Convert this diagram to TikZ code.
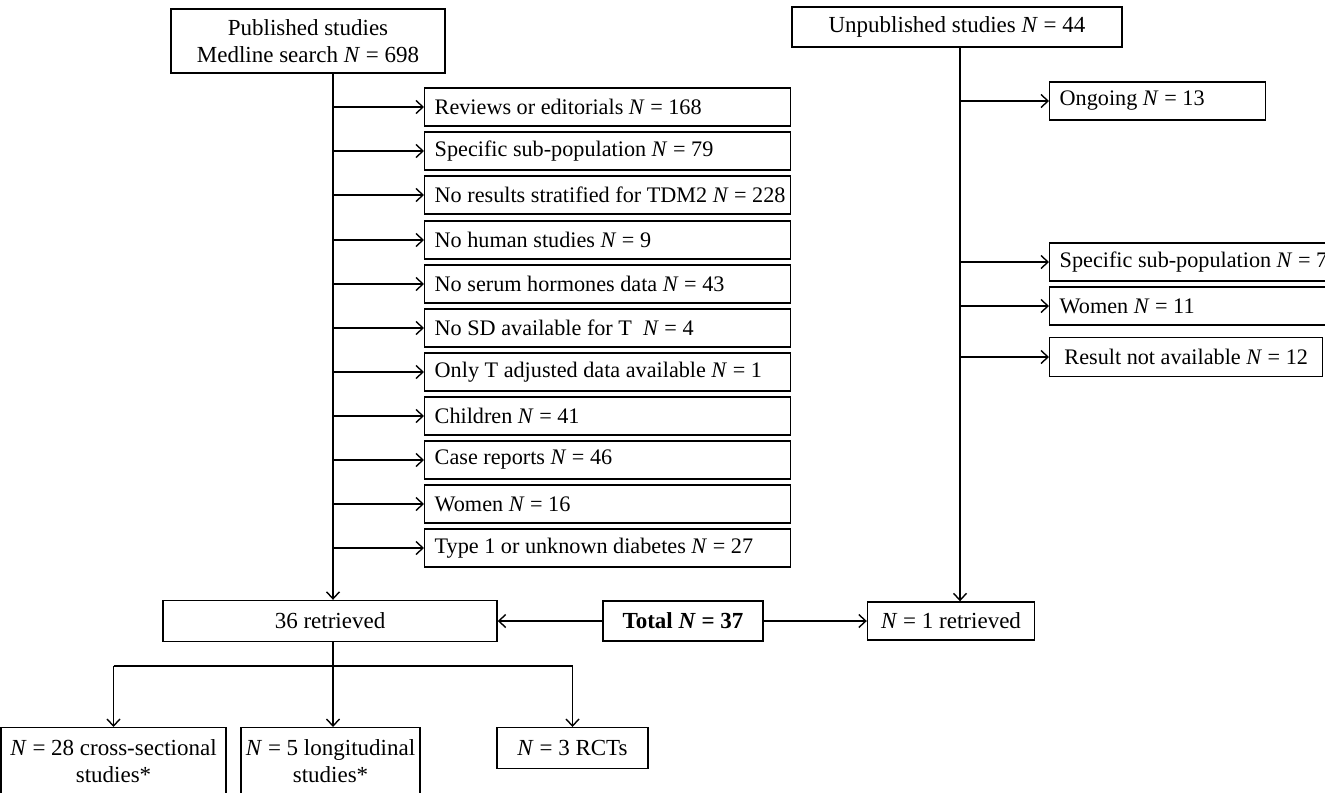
\documentclass[tikz,border=0pt]{standalone}
\usepackage{fontspec}
\setmainfont{Liberation Serif}
\usetikzlibrary{arrows.meta}
\newcommand{\nn}{\textit{N}}

\tikzset{
  box/.style={draw, line width=0.7pt, inner sep=0pt, font=\fontsize{11.5}{13.5}\selectfont},
  mbox/.style={box, align=center},
  exbox/.style={box, anchor=west, inner xsep=5pt, minimum height=19pt, font=\fontsize{11.1}{13}\selectfont,
    execute at begin node={\hbox to #1\bgroup}, execute at end node={\hss\egroup}},
  excl/.style={exbox=173pt},
}

\begin{document}
\begin{tikzpicture}[x=0.5pt,y=-0.5pt,>={Straight Barb[length=3.5pt,width=6.5pt]}, line width=0.7pt]
\useasboundingbox (0,0) rectangle (1325,792);
% published studies
\node[mbox, minimum width=137pt, minimum height=32pt] (pub) at (308,41) {Published studies\\Medline search \nn{} = 698};
\node[excl] (rev) at (424,107) {Reviews or editorials \nn{} = 168};
\node[excl] (spec) at (424,151) {Specific sub-population \nn{} = 79};
\node[excl] (strat) at (424,195) {No results stratified for TDM2 \nn{} = 228};
\node[excl] (human) at (424,240) {No human studies \nn{} = 9};
\node[excl] (serum) at (424,284) {No serum hormones data \nn{} = 43};
\node[excl] (sd) at (424,328) {No SD available for T~~\nn{} = 4};
\node[excl] (adj) at (424,372) {Only T adjusted data available \nn{} = 1};
\node[excl] (child) at (424,416) {Children \nn{} = 41};
\node[excl] (case) at (424,460) {Case reports \nn{} = 46};
\node[excl] (women) at (424,504) {Women \nn{} = 16};
\node[excl] (type) at (424,548) {Type 1 or unknown diabetes \nn{} = 27};
\node[box, minimum width=167pt, minimum height=20.5pt] (ret) at (330,621) {36 retrieved};
\coordinate (sp) at (333,0);
% unpublished studies
\node[box, minimum width=165pt, minimum height=20pt] (unpub) at (957,27) {Unpublished studies \nn{} = 44};
\node[exbox=98pt] (ong) at (1049,101) {Ongoing \nn{} = 13};
\node[exbox=140pt] (rspec) at (1049,262) {Specific sub-population \nn{} = 7};
\node[exbox=140pt] (rwomen) at (1049,306) {Women \nn{} = 11};
\node[box, anchor=west, minimum width=136.5pt, minimum height=19.5pt, font=\fontsize{11.1}{13}\selectfont] (rres) at (1049,357) {Result not available \nn{} = 12};
\node[box, minimum width=83.5pt, minimum height=19pt] (one) at (951,621) {\nn{} = 1 retrieved};
\coordinate (rs) at (960,0);
\node[box, minimum width=80pt, minimum height=20pt] (tot) at (683,621) {\textbf{Total \nn{} = 37}};
% study designs
\node[mbox, anchor=north, minimum width=112.5pt, minimum height=33pt] (cs) at (113.5,727) {\nn{} = 28 cross-sectional\\studies*};
\node[mbox, anchor=north, minimum width=89.5pt, minimum height=33pt] (lg) at (330.5,727) {\nn{} = 5 longitudinal\\studies*};
\node[box, anchor=north, minimum width=75.5pt, minimum height=20.5pt] (rct) at (572.5,727) {\nn{} = 3 RCTs};
\coordinate (br) at (0,666);

\draw[->] (pub.south -| sp) -- (ret.north -| sp);
\draw[->] (rev.west -| sp) -- (rev.west);
\draw[->] (spec.west -| sp) -- (spec.west);
\draw[->] (strat.west -| sp) -- (strat.west);
\draw[->] (human.west -| sp) -- (human.west);
\draw[->] (serum.west -| sp) -- (serum.west);
\draw[->] (sd.west -| sp) -- (sd.west);
\draw[->] (adj.west -| sp) -- (adj.west);
\draw[->] (child.west -| sp) -- (child.west);
\draw[->] (case.west -| sp) -- (case.west);
\draw[->] (women.west -| sp) -- (women.west);
\draw[->] (type.west -| sp) -- (type.west);

\draw[->] (unpub.south -| rs) -- (one.north -| rs);
\draw[->] (ong.west -| rs) -- (ong.west);
\draw[->] (rspec.west -| rs) -- (rspec.west);
\draw[->] (rwomen.west -| rs) -- (rwomen.west);
\draw[->] (rres.west -| rs) -- (rres.west);

\draw[->] (tot.west) -- (ret.east);
\draw[->] (tot.east) -- (one.west);

\draw[->] (ret.south -| sp) -- (lg.north -| sp);
\draw (br -| cs.north) -- (br -| rct.north);
\draw[->] (br -| cs.north) -- (cs.north);
\draw[->] (br -| rct.north) -- (rct.north);
\end{tikzpicture}
\end{document}
